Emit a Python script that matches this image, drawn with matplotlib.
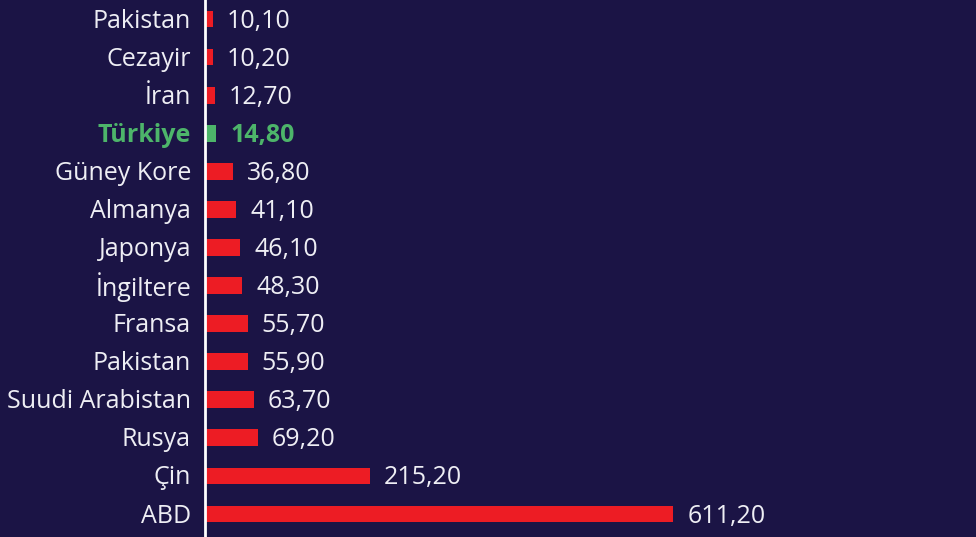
import matplotlib.pyplot as plt

countries = ["ABD", "Çin", "Rusya", "Suudi Arabistan", "Pakistan", "Fransa",
             "İngiltere", "Japonya", "Almanya", "Güney Kore", "Türkiye",
             "İran", "Cezayir", "Pakistan"]
values = [611.20, 215.20, 69.20, 63.70, 55.90, 55.70, 48.30, 46.10, 41.10,
          36.80, 14.80, 12.70, 10.20, 10.10]
highlight = "Türkiye"

bg = "#1b1445"
red = "#ed1c24"
green = "#4db56a"
txt = "#eeeef4"

plt.rcParams['font.family'] = ['Open Sans', 'DejaVu Sans']

fig = plt.figure(figsize=(9.76, 5.37), dpi=100, facecolor=bg)
ax = fig.add_axes([205 / 976, 0, 771 / 976, 1])
ax.set_facecolor(bg)

ypos = list(range(len(countries)))
colors = [green if c == highlight else red for c in countries]
ax.barh(ypos, values, height=0.44, color=colors, left=0)

ax.set_xlim(0, 1006)
ax.set_ylim(-0.604, 13.5)

for y, c, v in zip(ypos, countries, values):
    hl = c == highlight
    col = green if hl else txt
    w = "bold" if hl else "normal"
    ax.annotate(c, xy=(0, y), xytext=(-14, -2), textcoords="offset pixels",
                ha="right", va="center", fontsize=18, color=col, fontweight=w)
    ax.annotate(f"{v:.2f}".replace(".", ","), xy=(v, y), xytext=(14, -2),
                textcoords="offset pixels", ha="left", va="center",
                fontsize=18, color=col, fontweight=w)

for s in ["top", "right", "bottom"]:
    ax.spines[s].set_visible(False)
ax.spines["left"].set_color("white")
ax.spines["left"].set_linewidth(2)
ax.set_xticks([])
ax.set_yticks([])

fig.savefig("out.png", dpi=100, facecolor=bg)
